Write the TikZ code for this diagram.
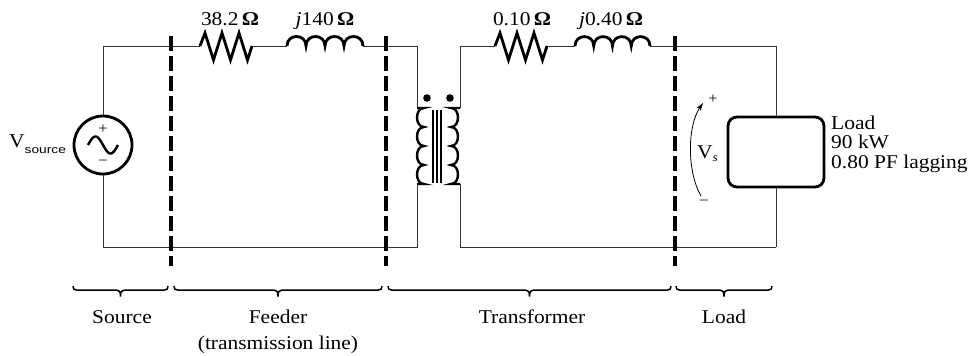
\documentclass[tikz,border=0pt]{standalone}
\usepackage{fontspec}
\setmainfont{Liberation Serif}[FakeStretch=1.1]
\newfontfamily\subsans{Liberation Sans}[FakeStretch=1.25]
\usetikzlibrary{arrows.meta}
\tikzset{
  wire/.style={line width=0.9pt, black!80},
  comp/.style={line width=2.8pt, line join=miter, line cap=butt},
  sect/.style={line width=4pt, dash pattern=on 15pt off 5pt},
  lbl/.style={font=\fontsize{19.5}{21}\selectfont, inner sep=0pt, anchor=base},
  sml/.style={font=\fontsize{15}{15}\selectfont, inner sep=0pt},
}
\newcommand\secbrace[2]{%
  \pgfmathsetmacro\bmid{(#1+#2)/2}%
  \draw[line width=1.5pt] (#1,286) .. controls (#1,289) and (#1+1,290) .. (#1+3.5,290)
    -- (\bmid-4,290) .. controls (\bmid-1.5,290) and (\bmid,291.5) .. (\bmid,296.5)
    .. controls (\bmid,291.5) and (\bmid+1.5,290) .. (\bmid+4,290)
    -- (#2-3.5,290) .. controls (#2-1,290) and (#2,289) .. (#2,286);}
\begin{document}
\begin{tikzpicture}[x=1pt,y=-1pt]
\useasboundingbox (0,0) rectangle (969,356);
% junction coordinates
\coordinate (sT) at (103,46);
\coordinate (sB) at (103,247);
\coordinate (r1a) at (200,46);
\coordinate (r1b) at (252,46);
\coordinate (l1a) at (287,46);
\coordinate (l1b) at (363,46);
\coordinate (pT) at (417,46);
\coordinate (pB) at (417,247);
\coordinate (qT) at (460,46);
\coordinate (qB) at (460,247);
\coordinate (r2a) at (495,46);
\coordinate (r2b) at (547,46);
\coordinate (l2a) at (575,46);
\coordinate (l2b) at (650,46);
\coordinate (ldT) at (776,46);
\coordinate (ldB) at (776,247);
% source
\node[draw, circle, line width=2.8pt, minimum size=58pt, inner sep=0pt] (src) at (103,145) {};
\draw[comp, line width=2.4pt] plot[domain=0:360, samples=60, smooth] ({88+\x/12},{145-8.5*sin(\x)});
\node[sml] (sp) at (103,129) {+};
\node[sml] (sm) at (103,163) {−};
\node[lbl, anchor=base west] (vsrc) at (9,147) {V\raisebox{-6pt}{\subsans\fontsize{11}{11}\selectfont source}};
% wires left side
\draw[wire] (src.north) -- (sT) -- (r1a);
\draw[wire] (src.south) -- (sB) -- (pB) -- (417,184);
\draw[wire] (r1b) -- (l1a);
\draw[wire] (l1b) -- (pT) -- (417,108);
% resistor 1
\draw[comp] (r1a) -- ++(5,-13) -- ++(8.5,27) -- ++(8.5,-27) -- ++(8.5,27) -- ++(8.5,-27) -- ++(8.5,27) -- (r1b);
% inductor 1
\draw[comp] (l1a) foreach \i in {1,...,4} { .. controls +(0,-12.7) and +(0,-12.7) .. ++(19,0) };
% transformer
\draw[comp, line width=2.4pt] (417,108) -- (424,108) foreach \i in {1,...,4} { .. controls +(-9.3,0) and +(-9.3,0) .. ++(0,19) } -- (417,184);
\draw[comp, line width=2.4pt] (460,108) -- (451,108) foreach \i in {1,...,4} { .. controls +(9.3,0) and +(9.3,0) .. ++(0,19) } -- (460,184);
\foreach \cx in {433,437,441} \draw[line width=2pt] (\cx,110) -- (\cx,183);
\fill (427,98) circle[radius=3.8pt];
\fill (450,98) circle[radius=3.8pt];
% right side wires
\draw[wire] (417,184) -- (pB);
\draw[wire] (460,108) -- (qT) -- (r2a);
\draw[wire] (460,184) -- (qB) -- (ldB);
\draw[wire] (r2b) -- (l2a);
\draw[wire] (l2b) -- (ldT);
% resistor 2
\draw[comp] (r2a) -- ++(5,-13) -- ++(8.5,27) -- ++(8.5,-27) -- ++(8.5,27) -- ++(8.5,-27) -- ++(8.5,27) -- (r2b);
% inductor 2
\draw[comp] (l2a) foreach \i in {1,...,4} { .. controls +(0,-12.5) and +(0,-12.5) .. ++(18.75,0) };
% load
\node[draw, line width=2.8pt, rounded corners=9pt, minimum width=96pt, minimum height=70pt, inner sep=0pt] (load) at (776,152) {};
\draw[wire] (ldT) -- (load.north);
\draw[wire] (load.south) -- (ldB);
% component labels
\node[lbl] (lr1) at (230,25) {38.2\,\textbf{Ω}};
\node[lbl] (ll1) at (325,25) {\textit{j}140\,\textbf{Ω}};
\node[lbl] (lr2) at (522,25) {0.10\,\textbf{Ω}};
\node[lbl] (ll2) at (611,25) {\textit{j}0.40\,\textbf{Ω}};
\node[lbl, anchor=base west] (ld1) at (831,129) {Load};
\node[lbl, anchor=base west] (ld2) at (831,148) {90 kW};
\node[lbl, anchor=base west] (ld3) at (831,168) {0.80 PF lagging};
% Vs
\coordinate (vsb) at (701,196);
\coordinate (vst) at (703,103);
\draw[line width=0.8pt, -{Stealth[length=8pt,width=5pt]}] (vsb) .. controls (687,172) and (687,126) .. (vst);
\node[sml] (vsp) at (713,99) {+};
\node[sml] (vsm) at (704,203) {−};
\node[lbl, anchor=base west] (vs) at (697,158) {V\raisebox{-3pt}{\fontsize{12}{12}\selectfont\itshape s}};
% section dashed lines
\draw[sect] (171,36) -- (171,266);
\draw[sect] (386,36) -- (386,266);
\draw[sect] (675,36) -- (675,266);
% braces
\secbrace{73}{168}
\secbrace{174}{382}
\secbrace{388}{671}
\secbrace{676}{772}
\node[lbl] (bs) at (122,323) {Source};
\node[lbl] (bf) at (278,323) {Feeder};
\node[lbl] (bf2) at (278,349) {(transmission line)};
\node[lbl] (bt) at (532,323) {Transformer};
\node[lbl] (bl) at (724,323) {Load};
\end{tikzpicture}
\end{document}
